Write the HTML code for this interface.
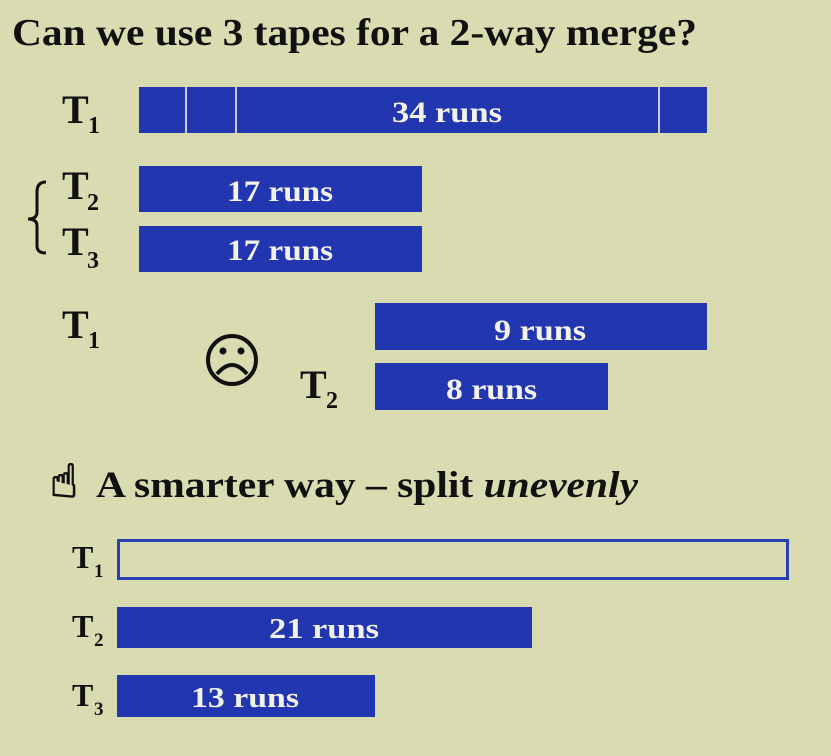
<!DOCTYPE html>
<html><head><meta charset="utf-8"><style>
html,body{margin:0;padding:0;background:#d9dbb0;}
svg{display:block}
text{font-family:"Liberation Serif",serif;font-weight:bold;}
.w{fill:#f2f2ea}
.k{fill:#111}
</style></head><body>
<svg width="831" height="756" viewBox="0 0 831 756">
<rect width="831" height="756" fill="#d9dbb0"/>
<text class="k" x="12" y="45" font-size="38" textLength="685" lengthAdjust="spacingAndGlyphs">Can we use 3 tapes for a 2-way merge?</text>

<text class="k" x="62" y="123" font-size="40">T</text><text class="k" x="88" y="133" font-size="24">1</text>
<rect x="139" y="87" width="568" height="46" fill="#2236b0"/>
<g stroke="#c8cde0" stroke-width="2"><line x1="186" y1="87" x2="186" y2="133"/><line x1="236" y1="87" x2="236" y2="133"/><line x1="659" y1="87" x2="659" y2="133"/></g>
<text class="w" x="392" y="122" font-size="30" textLength="110" lengthAdjust="spacingAndGlyphs">34 runs</text>

<path d="M46 182 Q37 182 37 192 L37 212 Q37 219 28 219 Q37 219 37 226 L37 246 Q37 253 46 253" fill="none" stroke="#111" stroke-width="3"/>
<text class="k" x="62" y="199" font-size="40">T</text><text class="k" x="87" y="210" font-size="24">2</text>
<text class="k" x="62" y="255" font-size="40">T</text><text class="k" x="87" y="268" font-size="24">3</text>
<rect x="139" y="166" width="283" height="46" fill="#2236b0"/>
<text class="w" x="227" y="201" font-size="30" textLength="106" lengthAdjust="spacingAndGlyphs">17 runs</text>
<rect x="139" y="226" width="283" height="46" fill="#2236b0"/>
<text class="w" x="227" y="260" font-size="30" textLength="106" lengthAdjust="spacingAndGlyphs">17 runs</text>

<text class="k" x="62" y="338" font-size="40">T</text><text class="k" x="88" y="348" font-size="24">1</text>
<circle cx="232" cy="360" r="24" fill="none" stroke="#111" stroke-width="4"/>
<circle cx="223" cy="351" r="3.5" fill="#111"/><circle cx="241" cy="351" r="3.5" fill="#111"/>
<path d="M217 374 Q232 356 247 374" fill="none" stroke="#111" stroke-width="4"/>
<text class="k" x="300" y="398" font-size="40">T</text><text class="k" x="326" y="408" font-size="24">2</text>
<rect x="375" y="303" width="332" height="47" fill="#2236b0"/>
<text class="w" x="494" y="340" font-size="30" textLength="92" lengthAdjust="spacingAndGlyphs">9 runs</text>
<rect x="375" y="363" width="233" height="47" fill="#2236b0"/>
<text class="w" x="446" y="399" font-size="30" textLength="91" lengthAdjust="spacingAndGlyphs">8 runs</text>

<text x="50" y="497" font-size="46" style="font-family:'DejaVu Sans',sans-serif;font-weight:normal" fill="#111" stroke="#111" stroke-width="1.5">☝</text>
<text class="k" x="96" y="497" font-size="37" textLength="542" lengthAdjust="spacingAndGlyphs">A smarter way – split <tspan font-style="italic">unevenly</tspan></text>

<text class="k" x="72" y="568" font-size="32">T</text><text class="k" x="94" y="577" font-size="19">1</text>
<rect x="118.5" y="540.5" width="669" height="38" fill="none" stroke="#2a3fb0" stroke-width="3"/>
<text class="k" x="72" y="637" font-size="32">T</text><text class="k" x="94" y="646" font-size="19">2</text>
<rect x="117" y="607" width="415" height="41" fill="#2236b0"/>
<text class="w" x="269" y="638" font-size="29" textLength="110" lengthAdjust="spacingAndGlyphs">21 runs</text>
<text class="k" x="72" y="706" font-size="32">T</text><text class="k" x="94" y="715" font-size="19">3</text>
<rect x="117" y="675" width="258" height="42" fill="#2236b0"/>
<text class="w" x="191" y="707" font-size="29" textLength="108" lengthAdjust="spacingAndGlyphs">13 runs</text>
</svg>
</body></html>
